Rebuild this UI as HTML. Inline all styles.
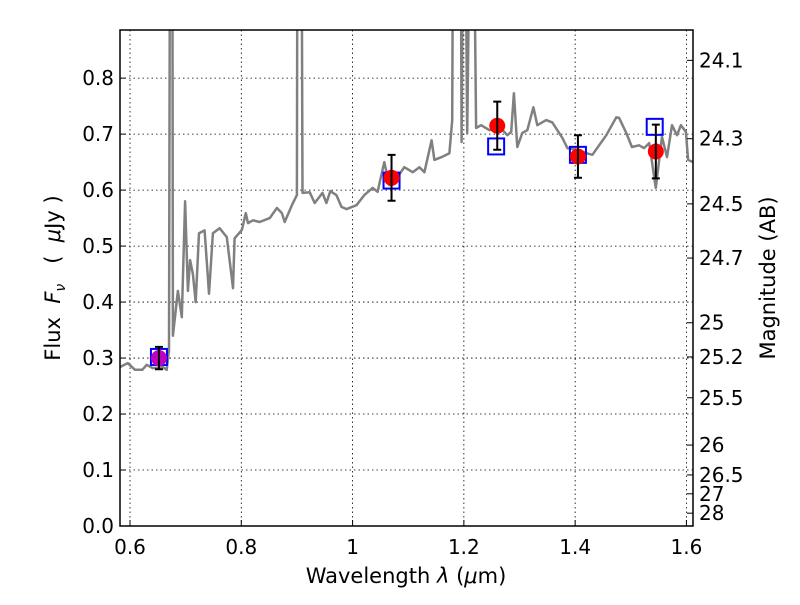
<!DOCTYPE html>
<html><head><meta charset="utf-8"><style>
body{margin:0;background:#fff;}
svg text{font-family:"DejaVu Sans","Liberation Sans",sans-serif;fill:#000;}
</style></head><body>
<svg id="chart" width="800" height="600" viewBox="0 0 800 600" xmlns="http://www.w3.org/2000/svg">
<defs><clipPath id="plotclip"><rect x="120" y="30" width="573" height="496"/></clipPath></defs>
<g id="grid"></g>
<g id="series" clip-path="url(#plotclip)"></g>
<rect x="120" y="30" width="573" height="496" fill="none" stroke="#000" stroke-width="1.5"/>
<g id="axes"></g>
<text x="406" y="583" font-size="21" text-anchor="middle">Wavelength  <tspan font-style="italic">λ</tspan> (<tspan font-style="italic">μ</tspan>m)</text>
<text transform="translate(60,278) rotate(-90)" font-size="21" text-anchor="middle" xml:space="preserve">Flux  <tspan font-style="italic">F</tspan><tspan font-style="italic" font-size="14" dy="5">ν</tspan><tspan dy="-5">   (  </tspan><tspan font-style="italic">μ</tspan>Jy )</text>
<text transform="translate(775,278) rotate(-90)" font-size="21" text-anchor="middle">Magnitude (AB)</text>
</svg>
<script>
const specX=[0.582,0.596,0.609,0.622,0.63,0.641,0.659,0.666,0.670,0.672,0.676,0.677,0.686,0.693,0.699,0.704,0.708,0.713,0.718,0.724,0.734,0.742,0.749,0.761,0.774,0.785,0.788,0.801,0.808,0.812,0.821,0.833,0.851,0.864,0.873,0.878,0.891,0.9,0.901,0.905,0.908,0.91,0.923,0.932,0.946,0.953,0.96,0.971,0.98,0.989,1.007,1.021,1.036,1.045,1.057,1.066,1.079,1.093,1.108,1.12,1.129,1.142,1.147,1.16,1.174,1.179,1.181,1.194,1.196,1.199,1.202,1.206,1.212,1.215,1.217,1.222,1.231,1.246,1.264,1.278,1.285,1.29,1.296,1.305,1.314,1.325,1.332,1.348,1.359,1.377,1.386,1.408,1.42,1.431,1.443,1.456,1.474,1.479,1.492,1.502,1.515,1.524,1.533,1.545,1.551,1.556,1.565,1.574,1.583,1.59,1.599,1.603,1.612];
const specY=[0.284,0.291,0.279,0.279,0.288,0.282,0.284,0.279,0.314,1.2,1.2,0.34,0.42,0.373,0.58,0.42,0.475,0.45,0.40,0.523,0.528,0.415,0.523,0.532,0.516,0.425,0.514,0.529,0.559,0.541,0.546,0.543,0.55,0.568,0.559,0.543,0.573,0.591,1.2,1.2,1.2,0.595,0.596,0.577,0.595,0.577,0.598,0.591,0.57,0.566,0.573,0.591,0.604,0.597,0.65,0.609,0.621,0.641,0.632,0.641,0.632,0.689,0.654,0.659,0.666,0.725,1.2,1.2,0.686,1.2,1.2,0.702,1.2,1.2,1.2,0.711,0.716,0.707,0.713,0.698,0.704,0.773,0.677,0.702,0.707,0.748,0.716,0.725,0.721,0.693,0.675,0.671,0.666,0.663,0.68,0.698,0.73,0.729,0.702,0.677,0.68,0.675,0.684,0.604,0.654,0.695,0.659,0.716,0.698,0.716,0.704,0.654,0.65];
const obsX=[0.652,1.07,1.26,1.405,1.545];
const obsY=[0.300,0.622,0.715,0.660,0.669];
const obsErr=[0.020,0.041,0.043,0.038,0.048];
const obsColor=['#bf00bf','red','red','red','red'];
const modelX=[0.652,1.07,1.258,1.405,1.543];
const modelY=[0.302,0.617,0.678,0.663,0.713];
const xTicks=[0.6,0.8,1.0,1.2,1.4,1.6];
const xTickLabels=['0.6','0.8','1','1.2','1.4','1.6'];
const yTicks=[0,0.1,0.2,0.3,0.4,0.5,0.6,0.7,0.8];
const yTickLabels=['0.0','0.1','0.2','0.3','0.4','0.5','0.6','0.7','0.8'];
const magTicks=[24.1,24.3,24.5,24.7,25,25.2,25.5,26,26.5,27,28];
const magTickLabels=['24.1','24.3','24.5','24.7','25','25.2','25.5','26','26.5','27','28'];

const NS='http://www.w3.org/2000/svg';
const X0=120,X1=693,Y0=526,Y1=30,XMIN=0.582,XMAX=1.6118,YMIN=0,YMAX=0.886;
function sx(v){return X0+(v-XMIN)/(XMAX-XMIN)*(X1-X0);}
function sy(v){return Y0-(v-YMIN)/(YMAX-YMIN)*(Y0-Y1);}
function mk(tag,attrs,parent){const e=document.createElementNS(NS,tag);for(const k in attrs)e.setAttribute(k,attrs[k]);parent.appendChild(e);return e;}
const grid=document.getElementById('grid'),series=document.getElementById('series'),axes=document.getElementById('axes');

xTicks.forEach((t,i)=>{
  const x=sx(t);
  const g=mk('line',{x1:x,x2:x,y1:Y1,y2:Y0,stroke:'#000','stroke-width':0.8,'stroke-dasharray':'1.5,3'},grid);
  
  
  const tk=mk('line',{x1:x,x2:x,y1:Y0,y2:Y0-6,stroke:'#000'},axes);
  
  
  const tx=mk('text',{x:x,y:Y0+28,'font-size':20,'text-anchor':'middle'},axes);
  tx.textContent=xTickLabels[i];
  
  
});
yTicks.forEach((t,i)=>{
  const y=sy(t);
  const g=mk('line',{x1:X0,x2:X1,y1:y,y2:y,stroke:'#000','stroke-width':0.8,'stroke-dasharray':'1.5,3'},grid);
  
  
  const tk=mk('line',{x1:X0,x2:X0+6,y1:y,y2:y,stroke:'#000'},axes);
  
  
  const tx=mk('text',{x:X0-6,y:y+7,'font-size':20,'text-anchor':'end'},axes);
  tx.textContent=yTickLabels[i];
  
  
});
magTicks.forEach((m,i)=>{
  const f=Math.pow(10,(23.9-m)/2.5);
  const y=sy(f);
  const tk=mk('line',{x1:X1,x2:X1-6,y1:y,y2:y,stroke:'#000'},axes);
  
  
  const tx=mk('text',{x:X1+6,y:y+7,'font-size':20,'text-anchor':'start'},axes);
  tx.textContent=magTickLabels[i];
  
  
});

let d='';
specX.forEach((v,i)=>{d+=(i?'L':'M')+sx(v).toFixed(1)+','+sy(specY[i]).toFixed(1);});
const sp=mk('path',{d:d,fill:'none',stroke:'#808080','stroke-width':2.5,'stroke-linejoin':'round'},series);



modelX.forEach((v,i)=>{
  const x=sx(v),y=sy(modelY[i]);
  const r=mk('rect',{x:x-8,y:y-8,width:16,height:16,fill:'none',stroke:'#0000ff','stroke-width':2},series);
  
  
});
obsX.forEach((v,i)=>{
  const x=sx(v),y=sy(obsY[i]);
  const c=mk('circle',{cx:x,cy:y,r:8,fill:obsColor[i]},series);
  
  
});
obsX.forEach((v,i)=>{
  const x=sx(v),ya=sy(obsY[i]-obsErr[i]),yb=sy(obsY[i]+obsErr[i]);
  const e=mk('path',{d:`M${x},${ya}L${x},${yb}M${x-4},${ya}L${x+4},${ya}M${x-4},${yb}L${x+4},${yb}`,stroke:'#000','stroke-width':2,fill:'none'},series);
  
  
});
</script>
</body></html>
